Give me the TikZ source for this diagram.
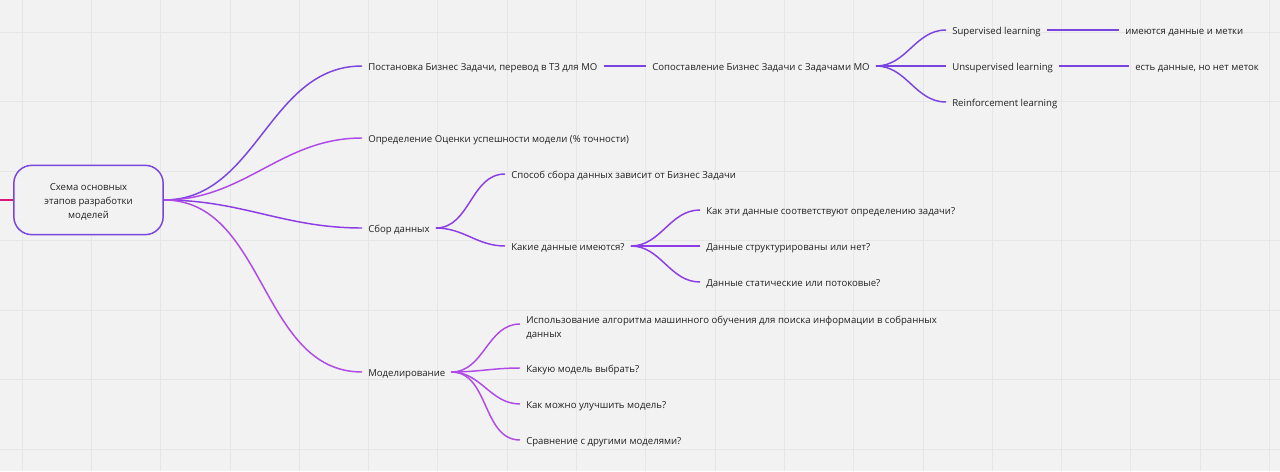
\documentclass[tikz,border=0pt]{standalone}
\usepackage{fontspec}
\setmainfont{Open Sans}
\definecolor{bg}{HTML}{F2F2F2}
\definecolor{gridc}{HTML}{E6E6E6}
\definecolor{txt}{HTML}{222222}
\definecolor{cviolet}{HTML}{7A45DE}
\definecolor{cpurple}{HTML}{8C3DE6}
\definecolor{cmag}{HTML}{B04AE6}
\definecolor{cpink}{HTML}{D81B78}
\newcommand{\fs}{\fontsize{7.2pt}{10.5pt}\selectfont}
\begin{document}
\begin{tikzpicture}[x=0.75pt,y=-0.75pt,
  lblbase/.style={anchor=west,inner xsep=4.5pt,inner ysep=1pt,font=\fs,text=txt},
  lbl/.style={lblbase,text height=6.6pt,text depth=0.6pt},
  rootbox/.style={draw=cviolet,line width=1.1pt,rounded corners=13.5pt,minimum width=112pt,minimum height=52pt,fill=bg},
  roottext/.style={align=center,font=\fs,text=txt,inner sep=0pt},
  conn/.style={line width=1.1pt}]
\fill[bg] (0,0) rectangle (1280,471);
\useasboundingbox (0,0) rectangle (1280,471);
\foreach \k in {0,...,18} \draw[gridc,line width=0.6pt] ({22+69.3*\k},0) -- ({22+69.3*\k},471);
\foreach \k in {0,...,6} \draw[gridc,line width=0.6pt] (0,{32+69.5*\k}) -- (1280,{32+69.5*\k});

\node[rootbox] (r) at (88.5,200) {};
\node[roottext] (rt) at (88.5,202.2) {Схема основных\\этапов разработки\\моделей};
\coordinate (in) at (0,200);

\node[lbl] (p) at (362,66) {Постановка Бизнес Задачи, перевод в ТЗ для МО};
\node[lbl] (s) at (646,66) {Сопоставление Бизнес Задачи с Задачами МО};
\node[lbl] (sl) at (946,30) {Supervised learning};
\node[lbl] (ul) at (946,66) {Unsupervised learning};
\node[lbl] (rl) at (946,102) {Reinforcement learning};
\node[lbl] (sl2) at (1119,30) {имеются данные и метки};
\node[lbl] (ul2) at (1129,66) {есть данные, но нет меток};
\node[lbl] (o) at (362,138) {Определение Оценки успешности модели (\% точности)};
\node[lbl] (c) at (362,228) {Сбор данных};
\node[lbl] (c1) at (505,174) {Способ сбора данных зависит от Бизнес Задачи};
\node[lbl] (c2) at (505,246) {Какие данные имеются?};
\node[lbl] (c21) at (700,210) {Как эти данные соответствуют определению задачи?};
\node[lbl] (c22) at (700,246) {Данные структурированы или нет?};
\node[lbl] (c23) at (700,282) {Данные статические или потоковые?};
\node[lbl] (m) at (362,372) {Моделирование};
\node[lblbase,align=left] (m1) at (520,328) {Использование алгоритма машинного обучения для поиска информации в собранных\\данных};
\node[lbl] (m2) at (520,368) {Какую модель выбрать?};
\node[lbl] (m3) at (520,404) {Как можно улучшить модель?};
\node[lbl] (m4) at (520,440) {Сравнение с другими моделями?};

\draw[conn,cpink] (in) -- (r.west);
\draw[conn,cviolet] (r.east) to[out=0,in=180] (p.west);
\draw[conn,cmag] (r.east) to[out=0,in=180] (o.west);
\draw[conn,cpurple] (r.east) to[out=0,in=180] (c.west);
\draw[conn,cmag] (r.east) to[out=0,in=180] (m.west);

\draw[conn,cviolet] (p.east) -- (s.west);
\draw[conn,cviolet] (s.east) to[out=0,in=180] (sl.west);
\draw[conn,cviolet] (s.east) to[out=0,in=180] (ul.west);
\draw[conn,cviolet] (s.east) to[out=0,in=180] (rl.west);
\draw[conn,cviolet] (sl.east) -- (sl2.west);
\draw[conn,cviolet] (ul.east) -- (ul2.west);

\draw[conn,cpurple] (c.east) to[out=0,in=180] (c1.west);
\draw[conn,cpurple] (c.east) to[out=0,in=180] (c2.west);
\draw[conn,cpurple] (c2.east) to[out=0,in=180] (c21.west);
\draw[conn,cpurple] (c2.east) to[out=0,in=180] (c22.west);
\draw[conn,cpurple] (c2.east) to[out=0,in=180] (c23.west);

\draw[conn,cmag] (m.east) to[out=0,in=180] ([yshift=3pt]m1.west);
\draw[conn,cmag] (m.east) to[out=0,in=180] (m2.west);
\draw[conn,cmag] (m.east) to[out=0,in=180] (m3.west);
\draw[conn,cmag] (m.east) to[out=0,in=180] (m4.west);
\end{tikzpicture}
\end{document}
